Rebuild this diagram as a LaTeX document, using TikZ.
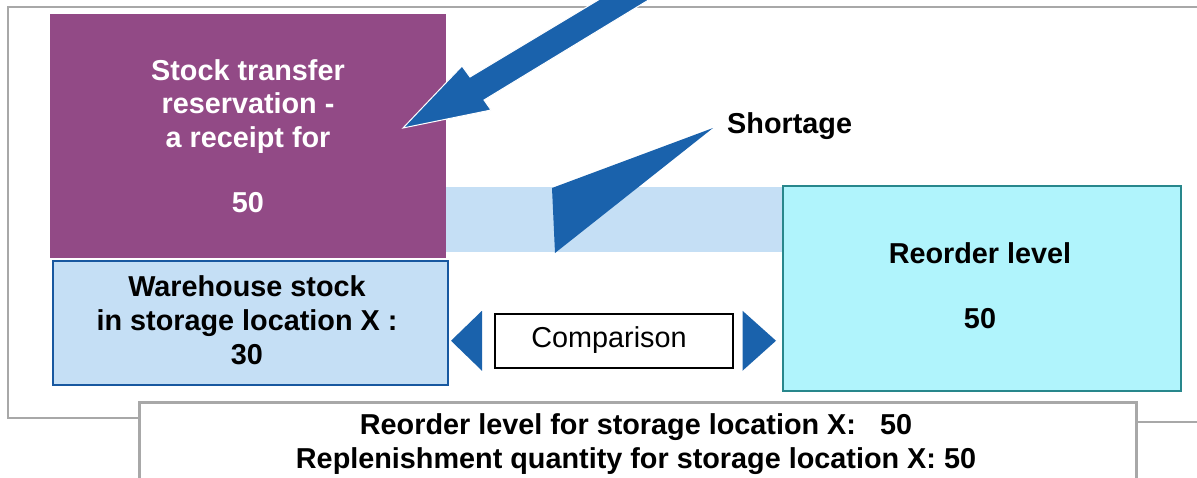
\documentclass[tikz,border=0pt]{standalone}
\usepackage{fontspec}
\setmainfont{Liberation Sans}
\usetikzlibrary{calc}
\definecolor{purp}{RGB}{146,74,134}
\definecolor{lblue}{RGB}{197,223,245}
\definecolor{ablue}{RGB}{26,98,172}
\definecolor{wborder}{RGB}{24,88,160}
\definecolor{cyanf}{RGB}{176,244,252}
\definecolor{tealb}{RGB}{40,135,140}
\definecolor{frameg}{RGB}{168,168,168}
\begin{document}
\begin{tikzpicture}[x=1pt,y=-1pt,
  txt/.style={font=\fontsize{28.8}{33}\selectfont\bfseries, inner sep=0, anchor=base},
  ntxt/.style={font=\fontsize{28.8}{33}\selectfont, inner sep=0, anchor=base},
  boxnw/.style={rectangle, inner sep=0, anchor=north west},
  framel/.style={draw=frameg, line width=2.5}]
\useasboundingbox (0,0) rectangle (1197,477);
\clip (0,0) rectangle (1197,477);
% outer frame
\draw[framel] (1200,7) -- (8,7) -- (8,418) -- (138,418);
\draw[framel] (1135,422) -- (1200,422);
% boxes
\node[boxnw, fill=purp, minimum width=396, minimum height=244] (stb) at (50,14) {};
\node[boxnw, fill=lblue, minimum width=336, minimum height=65] (band) at (446,187) {};
\node[boxnw, fill=lblue, draw=wborder, line width=2, minimum width=395, minimum height=124] (wh) at (52,260) {};
\node[boxnw, fill=cyanf, draw=tealb, line width=2, minimum width=398, minimum height=205] (ro) at (782,185) {};
\node[boxnw, fill=white, draw=black, line width=1.5, minimum width=238, minimum height=54] (cmp) at (494,313) {};
\node[boxnw, fill=white, draw=frameg, line width=3, minimum width=997, minimum height=100] (bot) at (138,401) {};
% comparison triangles
\fill[ablue] ($(wh.east|-cmp.west)+(2,0)$) -- ($(cmp.west)+(-12,-30)$) -- ($(cmp.west)+(-12,30)$) -- cycle;
\fill[ablue] ($(cmp.east)+(9,-30)$) -- ($(ro.west|-cmp.east)+(-6,0)$) -- ($(cmp.east)+(9,30)$) -- cycle;
% big arrow
\coordinate (bigtip) at (403,128);
\fill[ablue, draw=white, line width=1] (bigtip) -- (462,66) -- (470,77) -- (615,-10) -- (665,-10) -- (484,100) -- (491,110) -- cycle;
% shortage
\node[txt, anchor=base west] (sh) at (727,133) {Shortage};
\coordinate (shtip) at ($(sh.base west)+(-14,-5)$);
\fill[ablue] (552,188) -- (shtip) -- (555,253) -- cycle;
% texts
\node[txt, text=white] (s1) at (248,80) {Stock transfer};
\node[txt, text=white] (s2) at (248,113) {reservation -};
\node[txt, text=white] (s3) at (248,147) {a receipt for};
\node[txt, text=white] (s4) at (248,212) {50};
\node[txt] (w1) at (247,296) {Warehouse stock};
\node[txt] (w2) at (247,330) {in storage location X :};
\node[txt] (w3) at (247,364) {30};
\node[txt] (r1) at (980,263) {Reorder level};
\node[txt] (r2) at (980,328) {50};
\node[ntxt] (c1) at (609,347) {Comparison};
\node[txt] (b1) at (636,434) {Reorder level for storage location X:\ \ \ 50};
\node[txt] (b2) at (636,468) {Replenishment quantity for storage location X: 50};
\end{tikzpicture}
\end{document}
